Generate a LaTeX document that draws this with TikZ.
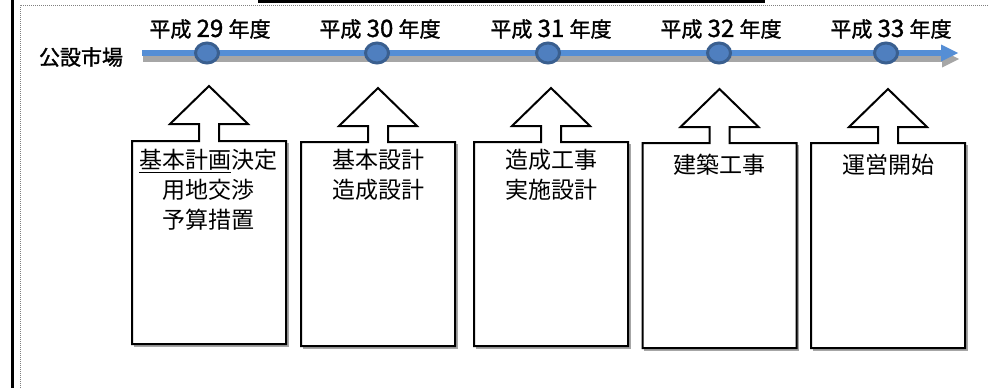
\documentclass[tikz,border=0pt]{standalone}
\usepackage{fontspec}
\newfontfamily\jp{Noto Sans CJK JP}
\newfontfamily\jpm[FakeBold=1.3]{Noto Sans CJK JP}
\usetikzlibrary{shapes.geometric}
\definecolor{tlblue}{HTML}{558ED5}
\definecolor{tlgray}{HTML}{A6A6A6}
\definecolor{dotfill}{HTML}{4F7FBF}
\definecolor{dotedge}{HTML}{3A5F8F}
\newcommand\myul[1]{\setbox0\hbox{#1}\rlap{\rule[-4pt]{\wd0}{0.9pt}}\box0}
\newcommand\yrnum[1]{{\fontsize{24}{24}\selectfont #1}}
\tikzset{
  yearlbl/.style={font=\jpm\fontsize{21}{24}\selectfont, inner sep=0pt},
  rowlbl/.style={font=\jpm\fontsize{21}{24}\selectfont, inner sep=0pt},
  yeardot/.style={ellipse, draw=dotedge, fill=dotfill, line width=3pt, minimum width=23pt, minimum height=20pt, inner sep=0pt},
  calloutline/.style={draw=black, line width=2pt, fill=white, line join=miter},
  calloutshadow/.style={draw=gray!70, line width=2pt},
  boxtxt/.style={font=\jp\fontsize{23}{30}\selectfont, align=center, inner sep=0pt},
  dotborder/.style={draw=gray, line width=1pt, dash pattern=on 1pt off 1pt}
}
\begin{document}
\begin{tikzpicture}[x=1pt,y=-1pt]
\useasboundingbox (0,0) rectangle (988,388);
% frame
\draw[line width=3pt] (12,0) -- (12,388);
\draw[dotborder] (20,388) -- (20,5) -- (988,5);
\draw[line width=3pt] (258,1.5) -- (765,1.5);
% timeline shadow
\begin{scope}[shift={(1,6)}]
  \draw[tlgray, line width=5.5pt] (142,53) -- (943,53);
  \fill[tlgray] (941,44.5) -- (958,53) -- (941,61.5) -- cycle;
\end{scope}
% timeline
\draw[tlblue, line width=5.5pt] (142,53) -- (943,53);
\fill[tlblue] (941,44.5) -- (958,53) -- (941,61.5) -- cycle;
% row label
\node[rowlbl] (row) at (81,57) {公設市場};
% dots and year labels
\foreach \xd/\xl/\nm/\yr in {207/210/1/29, 377/380/2/30, 548/551/3/31, 719/721/4/32, 886/891/5/33} {
  \node[yeardot] (c\nm) at (\xd,53) {};
  \node[yearlbl] (y\nm) at (\xl,29) {平成\hspace{0.25em}\yrnum{\yr}\hspace{0.25em}年度};
}
% callouts
\foreach \xc/\ytip/\ytop/\ybot in {209/86/141/344, 378/88/142/346, 551/88/142/346, 719.5/89/143/348, 888/89/143/348} {
  \draw[calloutshadow] (\xc+78.5,\ytop+2) -- (\xc+78.5,\ybot+1.5) -- (\xc-75.5,\ybot+1.5);
  \draw[calloutline] (\xc-77,\ybot) -- (\xc-77,\ytop) -- (\xc-10,\ytop) -- (\xc-10,\ytip+38)
     -- (\xc-39,\ytip+38) -- (\xc,\ytip) -- (\xc+39,\ytip+38) -- (\xc+10,\ytip+38)
     -- (\xc+10,\ytop) -- (\xc+77,\ytop) -- (\xc+77,\ybot) -- cycle;
}
% box texts
\node[boxtxt] (t1) at (208,190) {\myul{基本計画}決定\\用地交渉\\予算措置};
\node[boxtxt] (t2) at (378,175) {基本設計\\造成設計};
\node[boxtxt] (t3) at (551,175) {造成工事\\実施設計};
\node[boxtxt] (t4) at (719.5,165) {建築工事};
\node[boxtxt] (t5) at (888,165) {運営開始};
\end{tikzpicture}
\end{document}
